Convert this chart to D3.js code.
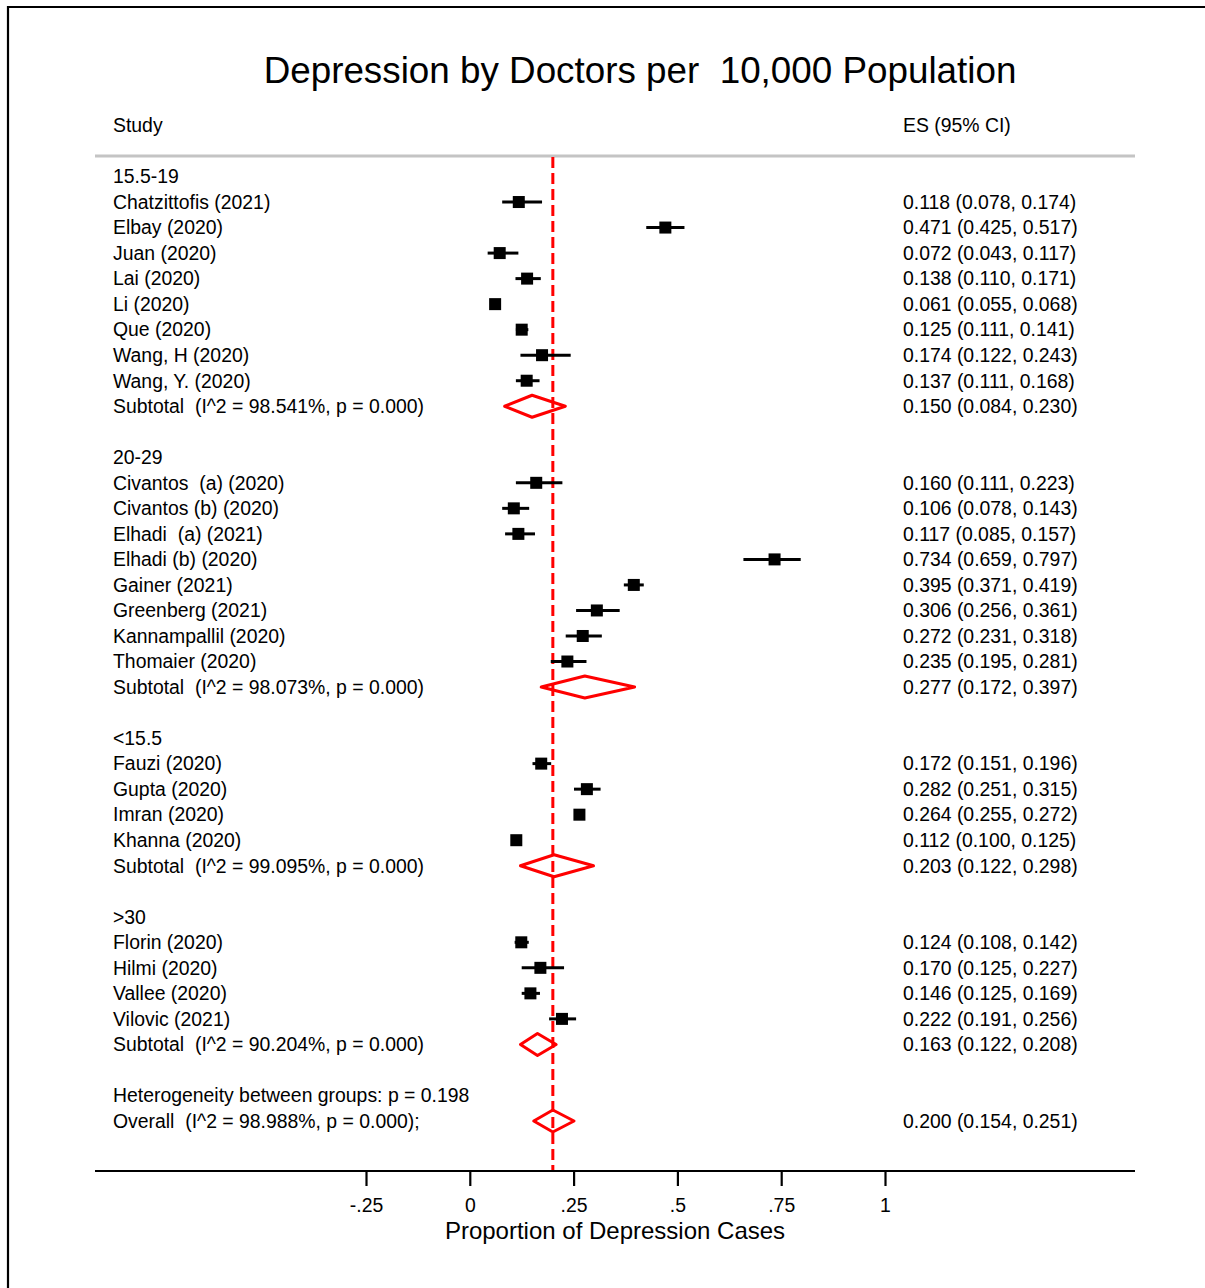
<!DOCTYPE html>
<html>
<head>
<meta charset="utf-8">
<script src="https://cdn.jsdelivr.net/npm/d3@7"></script>
<style>
  html, body { margin: 0; padding: 0; background: #fff; }
  svg text { font-family: "Liberation Sans", Arial, Helvetica, sans-serif; fill: #000; }
</style>
</head>
<body>
<svg id="chart" width="1205" height="1288"></svg>
<script>
// Subgroups (doctors per 10,000 population)
const groupLabels = ["15.5-19", "20-29", "<15.5", ">30"];

// Individual studies
const studyLabels = [
  "Chatzittofis (2021)", "Elbay (2020)", "Juan (2020)", "Lai (2020)", "Li (2020)",
  "Que (2020)", "Wang, H (2020)", "Wang, Y. (2020)",
  "Civantos  (a) (2020)", "Civantos (b) (2020)", "Elhadi  (a) (2021)", "Elhadi (b) (2020)",
  "Gainer (2021)", "Greenberg (2021)", "Kannampallil (2020)", "Thomaier (2020)",
  "Fauzi (2020)", "Gupta (2020)", "Imran (2020)", "Khanna (2020)",
  "Florin (2020)", "Hilmi (2020)", "Vallee (2020)", "Vilovic (2021)"
];
const studyGroup = [0,0,0,0,0,0,0,0, 1,1,1,1,1,1,1,1, 2,2,2,2, 3,3,3,3];
const studyES = [0.118, 0.471, 0.072, 0.138, 0.061, 0.125, 0.174, 0.137,
                 0.160, 0.106, 0.117, 0.734, 0.395, 0.306, 0.272, 0.235,
                 0.172, 0.282, 0.264, 0.112,
                 0.124, 0.170, 0.146, 0.222];
const studyLo = [0.078, 0.425, 0.043, 0.110, 0.055, 0.111, 0.122, 0.111,
                 0.111, 0.078, 0.085, 0.659, 0.371, 0.256, 0.231, 0.195,
                 0.151, 0.251, 0.255, 0.100,
                 0.108, 0.125, 0.125, 0.191];
const studyHi = [0.174, 0.517, 0.117, 0.171, 0.068, 0.141, 0.243, 0.168,
                 0.223, 0.143, 0.157, 0.797, 0.419, 0.361, 0.318, 0.281,
                 0.196, 0.315, 0.272, 0.125,
                 0.142, 0.227, 0.169, 0.256];

// Pooled estimates per subgroup
const subtotalI2 = ["98.541%", "98.073%", "99.095%", "90.204%"];
const subtotalES = [0.150, 0.277, 0.203, 0.163];
const subtotalLo = [0.084, 0.172, 0.122, 0.122];
const subtotalHi = [0.230, 0.397, 0.298, 0.208];

// Overall pooled estimate
const overallI2 = "98.988%";
const overallES = 0.200;
const overallLo = 0.154;
const overallHi = 0.251;
const heterogeneityP = "0.198";

const xTicks = [-0.25, 0, 0.25, 0.5, 0.75, 1];
const xTickLabels = ["-.25", "0", ".25", ".5", ".75", "1"];

const fmt = d3.format(".3f");

// Build the row list
const rows = [];
groupLabels.forEach((g, gi) => {
  rows.push({ type: "header", label: g });
  studyLabels.forEach((s, i) => {
    if (studyGroup[i] === gi) {
      rows.push({ type: "study", label: s, es: studyES[i], lo: studyLo[i], hi: studyHi[i] });
    }
  });
  rows.push({ type: "subtotal",
    label: `Subtotal  (I^2 = ${subtotalI2[gi]}, p = 0.000)`,
    es: subtotalES[gi], lo: subtotalLo[gi], hi: subtotalHi[gi] });
  rows.push({ type: "blank" });
});
rows.push({ type: "text", label: `Heterogeneity between groups: p = ${heterogeneityP}` });
rows.push({ type: "subtotal", label: `Overall  (I^2 = ${overallI2}, p = 0.000);`,
  es: overallES, lo: overallLo, hi: overallHi });

const svg = d3.select("#chart");

const x = d3.scaleLinear().domain([-0.25, 1]).range([366, 885]);
const y = d3.scaleLinear().domain([0, rows.length - 1]).range([176.5, 1121]);

const labelX = 113, esX = 903;
const ruleLeft = 95, ruleRight = 1135;
const axisY = 1171;
const fontSize = 19.4;

// Frame
svg.append("line").attr("x1", 8).attr("x2", 1205).attr("y1", 7).attr("y2", 7)
  .attr("stroke", "#000").attr("stroke-width", 2.2);
svg.append("line").attr("x1", 8).attr("x2", 8).attr("y1", 6).attr("y2", 1288)
  .attr("stroke", "#000").attr("stroke-width", 2.2);

// Title
svg.append("text")
  .attr("x", 640).attr("y", 83)
  .attr("text-anchor", "middle")
  .style("font-size", "36.8px")
  .style("white-space", "pre")
  .text("Depression by Doctors per  10,000 Population");

// Column headers
svg.append("text").attr("x", labelX).attr("y", 125).attr("dy", "0.35em")
  .style("font-size", fontSize + "px").text("Study");
svg.append("text").attr("x", esX).attr("y", 125).attr("dy", "0.35em")
  .style("font-size", fontSize + "px").text("ES (95% CI)");

// Header rule
svg.append("line").attr("x1", ruleLeft).attr("x2", ruleRight)
  .attr("y1", 156).attr("y2", 156)
  .attr("stroke", "#c4c4c4").attr("stroke-width", 3);

// Overall reference line
svg.append("line")
  .attr("x1", x(overallES)).attr("x2", x(overallES))
  .attr("y1", 157).attr("y2", axisY)
  .attr("stroke", "#ff0000").attr("stroke-width", 3)
  .attr("stroke-dasharray", "11,5");

// Row labels
const rowG = svg.append("g");
rows.forEach((r, i) => {
  if (r.type === "blank") return;
  rowG.append("text")
    .attr("x", labelX).attr("y", y(i)).attr("dy", "0.35em")
    .style("font-size", fontSize + "px")
    .style("white-space", "pre")
    .text(r.label);
  if (r.type === "study" || r.type === "subtotal") {
    rowG.append("text")
      .attr("x", esX).attr("y", y(i)).attr("dy", "0.35em")
      .style("font-size", fontSize + "px")
      .text(`${fmt(r.es)} (${fmt(r.lo)}, ${fmt(r.hi)})`);
  }
});

// Study CIs and point estimates
const studyRows = rows.map((r, i) => ({ ...r, i })).filter(r => r.type === "study");
const marks = svg.append("g");
marks.selectAll("line.ci").data(studyRows).join("line")
  .attr("class", "ci")
  .attr("x1", d => x(d.lo)).attr("x2", d => x(d.hi))
  .attr("y1", d => y(d.i)).attr("y2", d => y(d.i))
  .attr("stroke", "#000").attr("stroke-width", 3);
const sq = 12;
marks.selectAll("rect.pt").data(studyRows).join("rect")
  .attr("class", "pt")
  .attr("x", d => x(d.es) - sq / 2).attr("y", d => y(d.i) - sq / 2)
  .attr("width", sq).attr("height", sq)
  .attr("fill", "#000");

// Pooled diamonds
const pooledRows = rows.map((r, i) => ({ ...r, i })).filter(r => r.type === "subtotal");
const hh = 11;
marks.selectAll("path.diamond").data(pooledRows).join("path")
  .attr("class", "diamond")
  .attr("d", d => {
    const cy = y(d.i);
    return `M${x(d.lo)},${cy}L${x(d.es)},${cy - hh}L${x(d.hi)},${cy}L${x(d.es)},${cy + hh}Z`;
  })
  .attr("fill", "none")
  .attr("stroke", "#ff0000").attr("stroke-width", 3)
  .attr("stroke-linejoin", "round");

// X axis
svg.append("line").attr("x1", ruleLeft).attr("x2", ruleRight)
  .attr("y1", axisY).attr("y2", axisY)
  .attr("stroke", "#000").attr("stroke-width", 2.2);
const axis = d3.axisBottom(x).tickValues(xTicks)
  .tickFormat((d, i) => xTickLabels[i]).tickSize(15).tickPadding(12);
const axisG = svg.append("g").attr("transform", `translate(0,${axisY})`).call(axis);
axisG.select(".domain").remove();
axisG.selectAll(".tick line").attr("stroke", "#000").attr("stroke-width", 2.2);
axisG.selectAll(".tick text")
  .style("font-size", fontSize + "px")
  .style("font-family", "'Liberation Sans', Arial, sans-serif")
  .attr("fill", "#000");

svg.append("text")
  .attr("x", 615).attr("y", 1231).attr("dy", "0.35em")
  .attr("text-anchor", "middle")
  .style("font-size", "24px")
  .text("Proportion of Depression Cases");
</script>
</body>
</html>
